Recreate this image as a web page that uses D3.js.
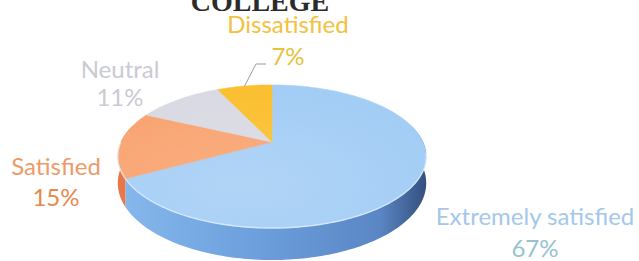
<!DOCTYPE html>
<html>
<head>
<meta charset="utf-8">
<script src="https://cdn.jsdelivr.net/npm/d3@7"></script>
<style>
  html, body { margin: 0; padding: 0; background: #ffffff; }
  svg { display: block; }
</style>
</head>
<body>
<div id="chart"></div>
<script>
// Chart data
const categories = ["Extremely satisfied", "Satisfied", "Neutral", "Dissatisfied"];
const values = [67, 15, 11, 7];
const percentLabels = ["67%", "15%", "11%", "7%"];
const titleText = "COLLEGE";

// Colours for each slice (top face, side wall, label)
const topColors = ["#a3cdf5", "#f9a26e", "#d9d9e3", "#fbbf2e"];
const sideColors = ["#6d9fdc", "#e8784a", "#b9b9c4", "#e0a020"];
const labelColors = ["#a5c7e9", "#ee9a66", "#cacad3", "#f2c13e"];
const pctColors = ["#96c3cf", "#e8884e", "#cacad3", "#e8c13a"];

const width = 639, height = 261;

const svg = d3.select("#chart").append("svg")
    .attr("width", width)
    .attr("height", height);

// Gradients
const defs = svg.append("defs");
const sideGrad = defs.append("linearGradient")
    .attr("id", "blueSide")
    .attr("gradientUnits", "userSpaceOnUse")
    .attr("x1", 120).attr("y1", 0).attr("x2", 426).attr("y2", 0);
sideGrad.append("stop").attr("offset", "0%").attr("stop-color", "#86b8ec");
sideGrad.append("stop").attr("offset", "45%").attr("stop-color", "#6c9fdc");
sideGrad.append("stop").attr("offset", "85%").attr("stop-color", "#5a86c4");
sideGrad.append("stop").attr("offset", "100%").attr("stop-color", "#34507f");

const topGrad = defs.append("radialGradient")
    .attr("id", "topShade")
    .attr("cx", "40%").attr("cy", "70%").attr("r", "70%");
topGrad.append("stop").attr("offset", "0%").attr("stop-color", "#ffffff").attr("stop-opacity", 0.15);
topGrad.append("stop").attr("offset", "100%").attr("stop-color", "#ffffff").attr("stop-opacity", 0);

// Perspective projection of the pie disk
const cx = 272, cy = 142;      // projected centre of the top face
const R = 151, M = 68.6;       // horizontal / depth scale
const D = 4.93;                // camera distance (in radii)
const H = 25.5;                // thickness

function proj(theta, r, down) {
    const X = r * Math.sin(theta), Z = -r * Math.cos(theta);
    const k = D / (D - Z);
    return [cx + X * R * k, cy + Z * M * k + down * H * k];
}

const pie = d3.pie().sort(null).value(d => d.value);
const arcs = pie(categories.map((c, i) => ({ name: c, value: values[i], i: i })));

const line = d3.line();

function arcPoints(a0, a1, down) {
    const n = Math.max(2, Math.ceil((a1 - a0) / 0.02));
    return d3.range(n + 1).map(j => proj(a0 + (a1 - a0) * j / n, 1, down));
}

// Side walls (only the front part is visible)
const visA = Math.PI * 0.42, visB = Math.PI * 1.58;
const gSide = svg.append("g");
arcs.forEach(a => {
    const s = Math.max(a.startAngle, visA), e = Math.min(a.endAngle, visB);
    if (e <= s) return;
    const pts = arcPoints(s, e, 0).concat(arcPoints(s, e, 1).reverse());
    gSide.append("path")
        .attr("d", line(pts) + "Z")
        .attr("fill", a.data.i === 0 ? "url(#blueSide)" : sideColors[a.data.i]);
});

// Top faces
const gTop = svg.append("g");
arcs.forEach(a => {
    const pts = [proj(0, 0, 0)].concat(arcPoints(a.startAngle, a.endAngle, 0));
    gTop.append("path")
        .attr("d", line(pts) + "Z")
        .attr("fill", topColors[a.data.i])
        .attr("stroke", topColors[a.data.i])
        .attr("stroke-width", 0.6);
});
gTop.append("path")
    .attr("d", line(arcPoints(0, Math.PI * 2, 0)) + "Z")
    .attr("fill", "url(#topShade)");

// Light rim along the front edge
gTop.append("path")
    .attr("d", line(arcPoints(Math.PI * 0.55, Math.PI * 1.5, 0)))
    .attr("fill", "none")
    .attr("stroke", "#e6f2ff")
    .attr("stroke-opacity", 0.7)
    .attr("stroke-width", 1.4);

// Title (partly cut off at the top)
svg.append("text")
    .attr("x", 260)
    .attr("y", 11)
    .attr("text-anchor", "middle")
    .attr("font-family", "'Liberation Serif', serif")
    .attr("font-weight", "bold")
    .attr("font-size", 28)
    .attr("fill", "#2b2b2b")
    .text(titleText);

// Label layout: [x, name baseline, percent baseline]
const labelPos = {
    "Extremely satisfied": [535, 225, 257],
    "Satisfied": [56, 175, 206],
    "Neutral": [120, 78, 106],
    "Dissatisfied": [288, 33, 65]
};

const gLab = svg.append("g")
    .attr("font-family", "Lato, 'Open Sans', sans-serif")
    .attr("font-size", 24)
    .attr("text-anchor", "middle");

arcs.forEach(a => {
    const p = labelPos[a.data.name];
    gLab.append("text").attr("x", p[0]).attr("y", p[1])
        .attr("fill", labelColors[a.data.i]).text(a.data.name);
    gLab.append("text").attr("x", p[0]).attr("y", p[2])
        .attr("fill", pctColors[a.data.i]).text(percentLabels[a.data.i]);
});

// Leader line for the small slice
const dis = arcs[3];
const start = proj((dis.startAngle + dis.endAngle) / 2, 1, 0);
svg.append("path")
    .attr("d", line([start, [256, 64], [266, 64]]))
    .attr("fill", "none")
    .attr("stroke", "#9a9a9a")
    .attr("stroke-width", 1);
</script>
</body>
</html>
